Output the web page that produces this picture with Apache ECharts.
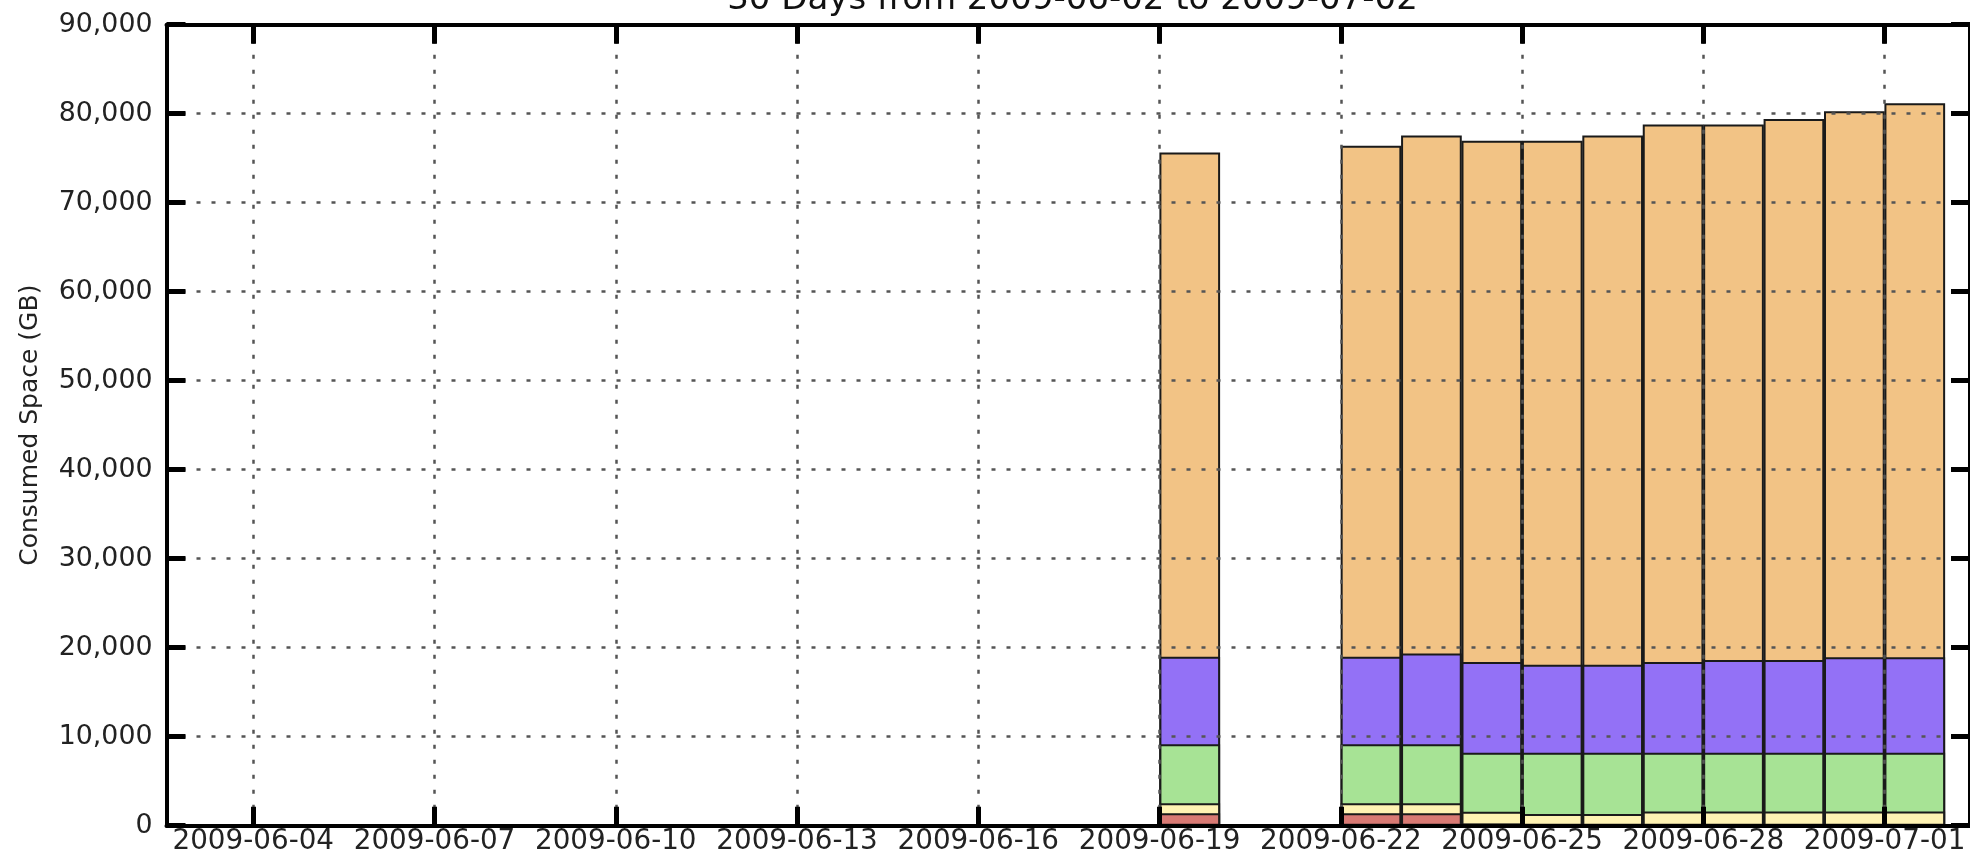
<!DOCTYPE html>
<html>
<head>
<meta charset="utf-8">
<script src="https://cdn.jsdelivr.net/npm/echarts@6/dist/echarts.min.js"></script>
<style>html,body{margin:0;padding:0;background:#fff}#c{width:1970px;height:859px}</style>
</head>
<body>
<div id="c"></div>
<script>
// ---- data ----
const titleText = '30 Days from 2009-06-02 to 2009-07-02';
const yAxisName = 'Consumed Space (GB)';
const days = ['2009-06-19','2009-06-22','2009-06-23','2009-06-24','2009-06-25','2009-06-26','2009-06-27','2009-06-28','2009-06-29','2009-06-30','2009-07-01'];
const tickDays = ['2009-06-04','2009-06-07','2009-06-10','2009-06-13','2009-06-16','2009-06-19','2009-06-22','2009-06-25','2009-06-28','2009-07-01'];
// stacked segments, bottom to top
const red    = [1390, 1390, 1390, 250, 0, 0, 0, 0, 0, 0, 0];
const yellow = [1120, 1120, 1120, 1320, 1315, 1315, 1600, 1600, 1600, 1600, 1600];
const green  = [6630, 6630, 6630, 6630, 6890, 6890, 6600, 6600, 6600, 6600, 6600];
const purple = [9840, 9840, 10220, 10190, 9890, 9890, 10190, 10420, 10420, 10720, 10720];
const orange = [56660, 57410, 58180, 58560, 58860, 59460, 60410, 60180, 60780, 61350, 62260];
const yMin = 0, yMax = 90000, yStep = 10000;
const rangeStartDay = '2009-06-02', rangeStartOffsetDays = 0.564, rangeDays = 29.85;

// ---- helpers ----
const DAY = 86400000;
function ts(s){ const p = s.split('-').map(Number); return new Date(p[0], p[1]-1, p[2]).getTime(); }
function fmtDate(v){ const d = new Date(v); const m = d.getMonth()+1, dd = d.getDate();
  return d.getFullYear() + '-' + (m<10?'0':'') + m + '-' + (dd<10?'0':'') + dd; }
function fmtNum(v){ return String(v).replace(/\B(?=(\d{3})+(?!\d))/g, ','); }

const xMin = ts(rangeStartDay) + rangeStartOffsetDays*DAY;
const xMax = xMin + rangeDays*DAY;
const tickVals = tickDays.map(ts);

const W = 1970, H = 859;
const gridLeft = 166.5, gridRight = -8.5, gridTop = 24.7, gridBottom = 33.3;
const plotW = W - gridLeft - gridRight;
const barW = plotW / rangeDays;

const font = 'DejaVu Sans';
const gridLine = { show: true, lineStyle: { color: '#555', width: 2.5, type: [4, 11] } };
const spine = { show: true, onZero: false, lineStyle: { color: '#000', width: 4 } };
const tick = { show: true, inside: true, length: 19, lineStyle: { color: '#000', width: 5 } };

// cumulative tops (stack built from the segment arrays)
const layers = [
  ['red', red, '#d97a74'],
  ['yellow', yellow, '#fff3b3'],
  ['green', green, '#a7e395'],
  ['purple', purple, '#9371f6'],
  ['orange', orange, '#f2c385']
];
const cum = [];
layers.forEach((l, k) => {
  cum.push(l[1].map((v, i) => v + (k ? cum[k-1][i] : 0)));
});

function mk(name, arr, color){
  return {
    name, type: 'bar', barWidth: barW, barGap: '-100%',
    data: days.map((d, i) => [ts(d) + DAY/2, arr[i]]),
    itemStyle: { color, borderColor: '#1a1a1a', borderWidth: 2 },
    emphasis: { disabled: true }
  };
}
// draw tallest first so lower segments overlay it
const series = [];
for (let k = layers.length - 1; k >= 0; k--) series.push(mk(layers[k][0], cum[k], layers[k][2]));

const chart = echarts.init(document.getElementById('c'), null, { renderer: 'canvas', width: W, height: H });
chart.setOption({
  animation: false,
  backgroundColor: '#fff',
  textStyle: { fontFamily: font },
  title: {
    text: titleText, left: gridLeft + plotW/2 - 5, top: -22, textAlign: 'center',
    textStyle: { fontFamily: font, fontSize: 34, fontWeight: 'normal', color: '#111' }
  },
  grid: { left: gridLeft, right: gridRight, top: gridTop, bottom: gridBottom, containLabel: false },
  xAxis: [
    { type: 'value', min: xMin, max: xMax, position: 'bottom', z: 10,
      axisLine: spine, axisTick: Object.assign({ customValues: tickVals }, tick),
      axisLabel: { customValues: tickVals, formatter: fmtDate, fontFamily: font, fontSize: 27.8, color: '#222', margin: 2 },
      splitLine: gridLine },
    { type: 'value', min: xMin, max: xMax, position: 'top', z: 10,
      axisLine: spine, axisTick: Object.assign({ customValues: tickVals }, tick),
      axisLabel: { show: false, customValues: tickVals }, splitLine: { show: false } }
  ],
  yAxis: [
    { type: 'value', min: yMin, max: yMax, interval: yStep, position: 'left', z: 10,
      name: yAxisName, nameLocation: 'middle', nameGap: 124, nameRotate: 90,
      nameTextStyle: { fontFamily: font, fontSize: 25, color: '#222' },
      axisLine: spine, axisTick: tick,
      axisLabel: { formatter: fmtNum, fontFamily: font, fontSize: 26.8, color: '#222', margin: 14 },
      splitLine: gridLine },
    { type: 'value', min: yMin, max: yMax, interval: yStep, position: 'right', z: 10,
      axisLine: spine, axisTick: tick, axisLabel: { show: false }, splitLine: { show: false } }
  ],
  series: series
});
</script>
</body>
</html>
